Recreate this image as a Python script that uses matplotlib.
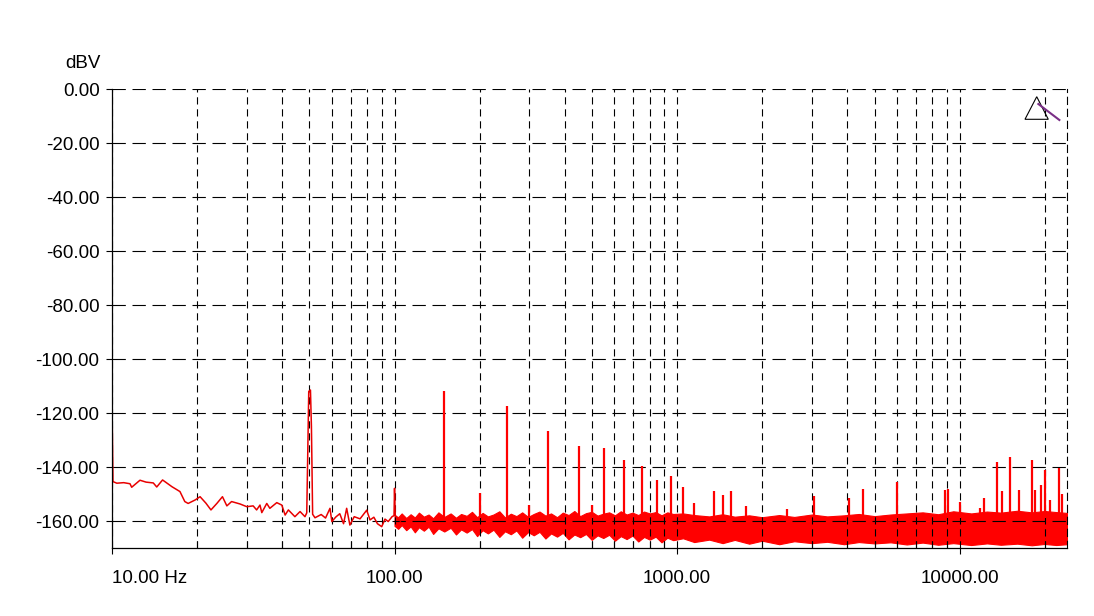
import numpy as np
import matplotlib
matplotlib.use('Agg')
import matplotlib.pyplot as plt
from matplotlib.patches import Polygon
from matplotlib.ticker import FixedLocator, NullFormatter

plt.rcParams['font.family'] = ['Liberation Sans', 'DejaVu Sans']

# low-frequency trace (10 Hz .. ~105 Hz)
low_freq = [10.0, 10.08, 10.4, 11.0, 11.58, 11.74, 12.56, 13.2, 14.0, 14.4, 15.1, 16.3,
            17.4, 18.1, 18.6, 19.7, 20.5, 21.5, 22.4, 23.5, 24.6, 25.5, 26.5, 28.4,
            30.0, 31.6, 32.5, 33.4, 33.9, 35.3, 36.2, 38.3, 39.9, 41.0, 42.1, 44.4,
            46.3, 48.2, 48.9, 49.3, 49.7, 50.4, 50.8, 51.3, 52.3, 55.0, 57.0, 59.1,
            60.0, 62.0, 64.0, 66.0, 67.7, 69.5, 72.0, 75.5, 79.7, 81.9, 84.5, 87.0,
            90.1, 92.5, 95.0, 98.0, 99.6, 100.0, 100.6, 103.0, 105.0]
low_db = [-117.5, -145.4, -146.0, -145.8, -146.2, -147.5, -144.9, -145.6, -145.9, -147.4,
          -144.8, -147.3, -149.1, -152.8, -153.5, -152.2, -151.0, -153.4, -155.9, -153.5,
          -151.0, -154.4, -152.8, -153.7, -154.7, -154.4, -155.9, -154.1, -156.9, -153.5,
          -155.3, -153.2, -154.1, -157.8, -155.9, -158.4, -156.5, -158.4, -157.0, -135.0,
          -112.0, -111.5, -125.0, -157.5, -158.8, -157.6, -158.9, -155.3, -160.2, -158.5,
          -157.3, -161.0, -155.3, -161.5, -158.4, -159.2, -156.0, -159.6, -158.6, -161.0,
          -162.1, -159.3, -160.2, -158.4, -158.0, -147.9, -157.9, -159.5, -160.0]

# noise floor envelope above 100 Hz
band_freq = [100, 103, 106, 110, 114, 118, 122, 127, 132, 137, 143, 150, 158, 165, 172,
             180, 188, 196, 205, 214, 224, 235, 246, 258, 270, 283, 297, 311, 326, 342,
             358, 376, 394, 413, 433, 454, 476, 499, 523, 548, 575, 603, 632, 663, 695,
             729, 764, 801, 840, 881, 924, 969, 1050, 1150, 1300, 1450, 1600, 1800, 2000,
             2300, 2600, 3000, 3400, 3900, 4400, 5000, 5700, 6500, 7400, 8400, 9500,
             11000, 12500, 14000, 16000, 18000, 20000, 22000, 24000]
band_upper = [-157.8, -158.6, -157.2, -158.9, -157.5, -158.7, -156.9, -158.4, -157.6,
              -159.0, -156.8, -158.5, -157.2, -158.8, -157.4, -158.1, -156.6, -158.6,
              -157.0, -158.3, -157.6, -156.4, -158.7, -157.3, -158.2, -156.8, -158.5,
              -157.4, -156.5, -158.0, -157.2, -158.6, -156.9, -157.8, -156.3, -158.2,
              -157.1, -156.6, -158.0, -157.3, -156.8, -157.9, -156.4, -157.6, -156.9,
              -157.8, -156.5, -157.2, -156.7, -157.9, -156.8, -157.4, -157.2, -157.8,
              -158.3, -157.5, -158.4, -157.9, -158.6, -157.8, -158.5, -157.6, -158.3,
              -157.9, -157.4, -158.2, -157.6, -157.2, -156.8, -157.5, -156.4, -157.2,
              -156.5, -156.9, -156.2, -156.8, -156.3, -156.7, -157.0]
band_lower = [-161.8, -162.9, -161.5, -163.4, -162.0, -164.2, -162.3, -163.6, -162.1,
              -164.8, -162.7, -163.9, -162.5, -165.0, -163.1, -164.3, -163.0, -165.6,
              -163.4, -164.6, -163.2, -165.9, -163.8, -164.9, -163.5, -166.2, -164.1,
              -165.3, -164.0, -166.5, -164.6, -165.8, -164.4, -166.8, -165.0, -166.0,
              -164.8, -167.0, -165.3, -166.3, -165.1, -167.3, -165.6, -166.7, -165.4,
              -167.6, -165.9, -166.9, -165.8, -167.9, -166.2, -167.1, -166.4, -167.8,
              -166.9, -168.2, -167.0, -168.4, -167.3, -168.6, -167.5, -168.2, -167.7,
              -168.6, -167.8, -168.3, -167.9, -168.7, -168.0, -168.8, -168.2, -168.9,
              -168.3, -168.8, -168.4, -169.0, -168.5, -168.9, -168.6]

# discrete spurs / harmonics
spur_freq = [150, 200, 250, 300, 350, 450, 500, 550, 650, 750, 850, 950, 1050, 1150,
             1350, 1450, 1550, 1750, 2450, 3050, 4050, 4550, 6000, 8880, 9130, 10040,
             11820, 12210, 13540, 14100, 15100, 16280, 18010, 18510, 19430, 20080,
             20910, 22560, 23030]
spur_db = [-111.7, -149.5, -117.4, -154.0, -126.7, -132.2, -154.0, -132.8, -137.4,
           -139.6, -144.8, -143.3, -147.3, -153.5, -148.8, -150.4, -148.8, -154.4,
           -155.7, -150.7, -151.3, -148.1, -145.4, -148.5, -148.1, -152.8, -155.3,
           -151.6, -138.0, -149.0, -136.4, -148.5, -137.4, -148.5, -146.7, -141.1,
           -152.2, -140.5, -150.0]

y_ticks = [0, -20, -40, -60, -80, -100, -120, -140, -160]
x_ticks = [10, 100, 1000, 10000]
x_labels = ['10.00 Hz', '100.00', '1000.00', '10000.00']

fig = plt.figure(figsize=(10.94, 6.16), dpi=100)
ax = fig.add_axes([112 / 1094, 1 - 548 / 616, 955 / 1094, 459 / 616])

ax.fill_between(band_freq, band_lower, band_upper, color='red', lw=0.8)
ax.vlines(spur_freq, -159, spur_db, color='red', lw=1.6)
ax.plot(low_freq, low_db, color='#e80000', lw=1.1)

ax.set_xscale('log')
ax.set_xlim(10, 24000)
ax.set_ylim(-170, 0)

ax.set_yticks(y_ticks)
ax.set_yticklabels(['%.2f' % v for v in y_ticks])
ax.xaxis.set_major_locator(FixedLocator(x_ticks))
ax.set_xticklabels(x_labels)
minor = [m * d for d in [10, 100, 1000, 10000] for m in range(2, 10) if m * d <= 24000]
ax.xaxis.set_minor_locator(FixedLocator(minor))
ax.xaxis.set_minor_formatter(NullFormatter())
ax.get_xticklabels()[0].set_horizontalalignment('left')

ax.tick_params(axis='both', which='major', labelsize=13.5, length=4, width=0.8,
               direction='out', colors='black')
ax.tick_params(axis='x', which='major', pad=12)
ax.tick_params(axis='y', which='major', pad=5)
ax.tick_params(axis='x', which='minor', length=5, direction='in', width=0.8)

ax.grid(True, axis='y', which='major', color='black', lw=0.8, linestyle=(0, (12, 6)))
ax.grid(True, axis='x', which='both', color='black', lw=0.8, linestyle=(0, (6.5, 4.3)))

ax.spines['right'].set_linestyle((0, (6.5, 4.3)))
ax.spines['right'].set_linewidth(0.8)
ax.spines['top'].set_visible(False)
for side in ['left', 'bottom']:
    ax.spines[side].set_linewidth(0.9)

fig.text(83 / 1094, 1 - 64 / 616, 'dBV', fontsize=13.5, ha='center', va='center')

# cursor marker in the upper right corner
tri = Polygon([[0.9683, 0.9832], [0.956, 0.934], [0.9804, 0.934]], closed=True,
              fill=False, edgecolor='black', lw=0.8, transform=ax.transAxes, clip_on=False)
ax.add_patch(tri)
ax.plot([0.970, 0.992], [0.9673, 0.9325], color='#7a2f86', lw=1.5,
        transform=ax.transAxes, clip_on=False)

fig.savefig('out.png', dpi=100)
